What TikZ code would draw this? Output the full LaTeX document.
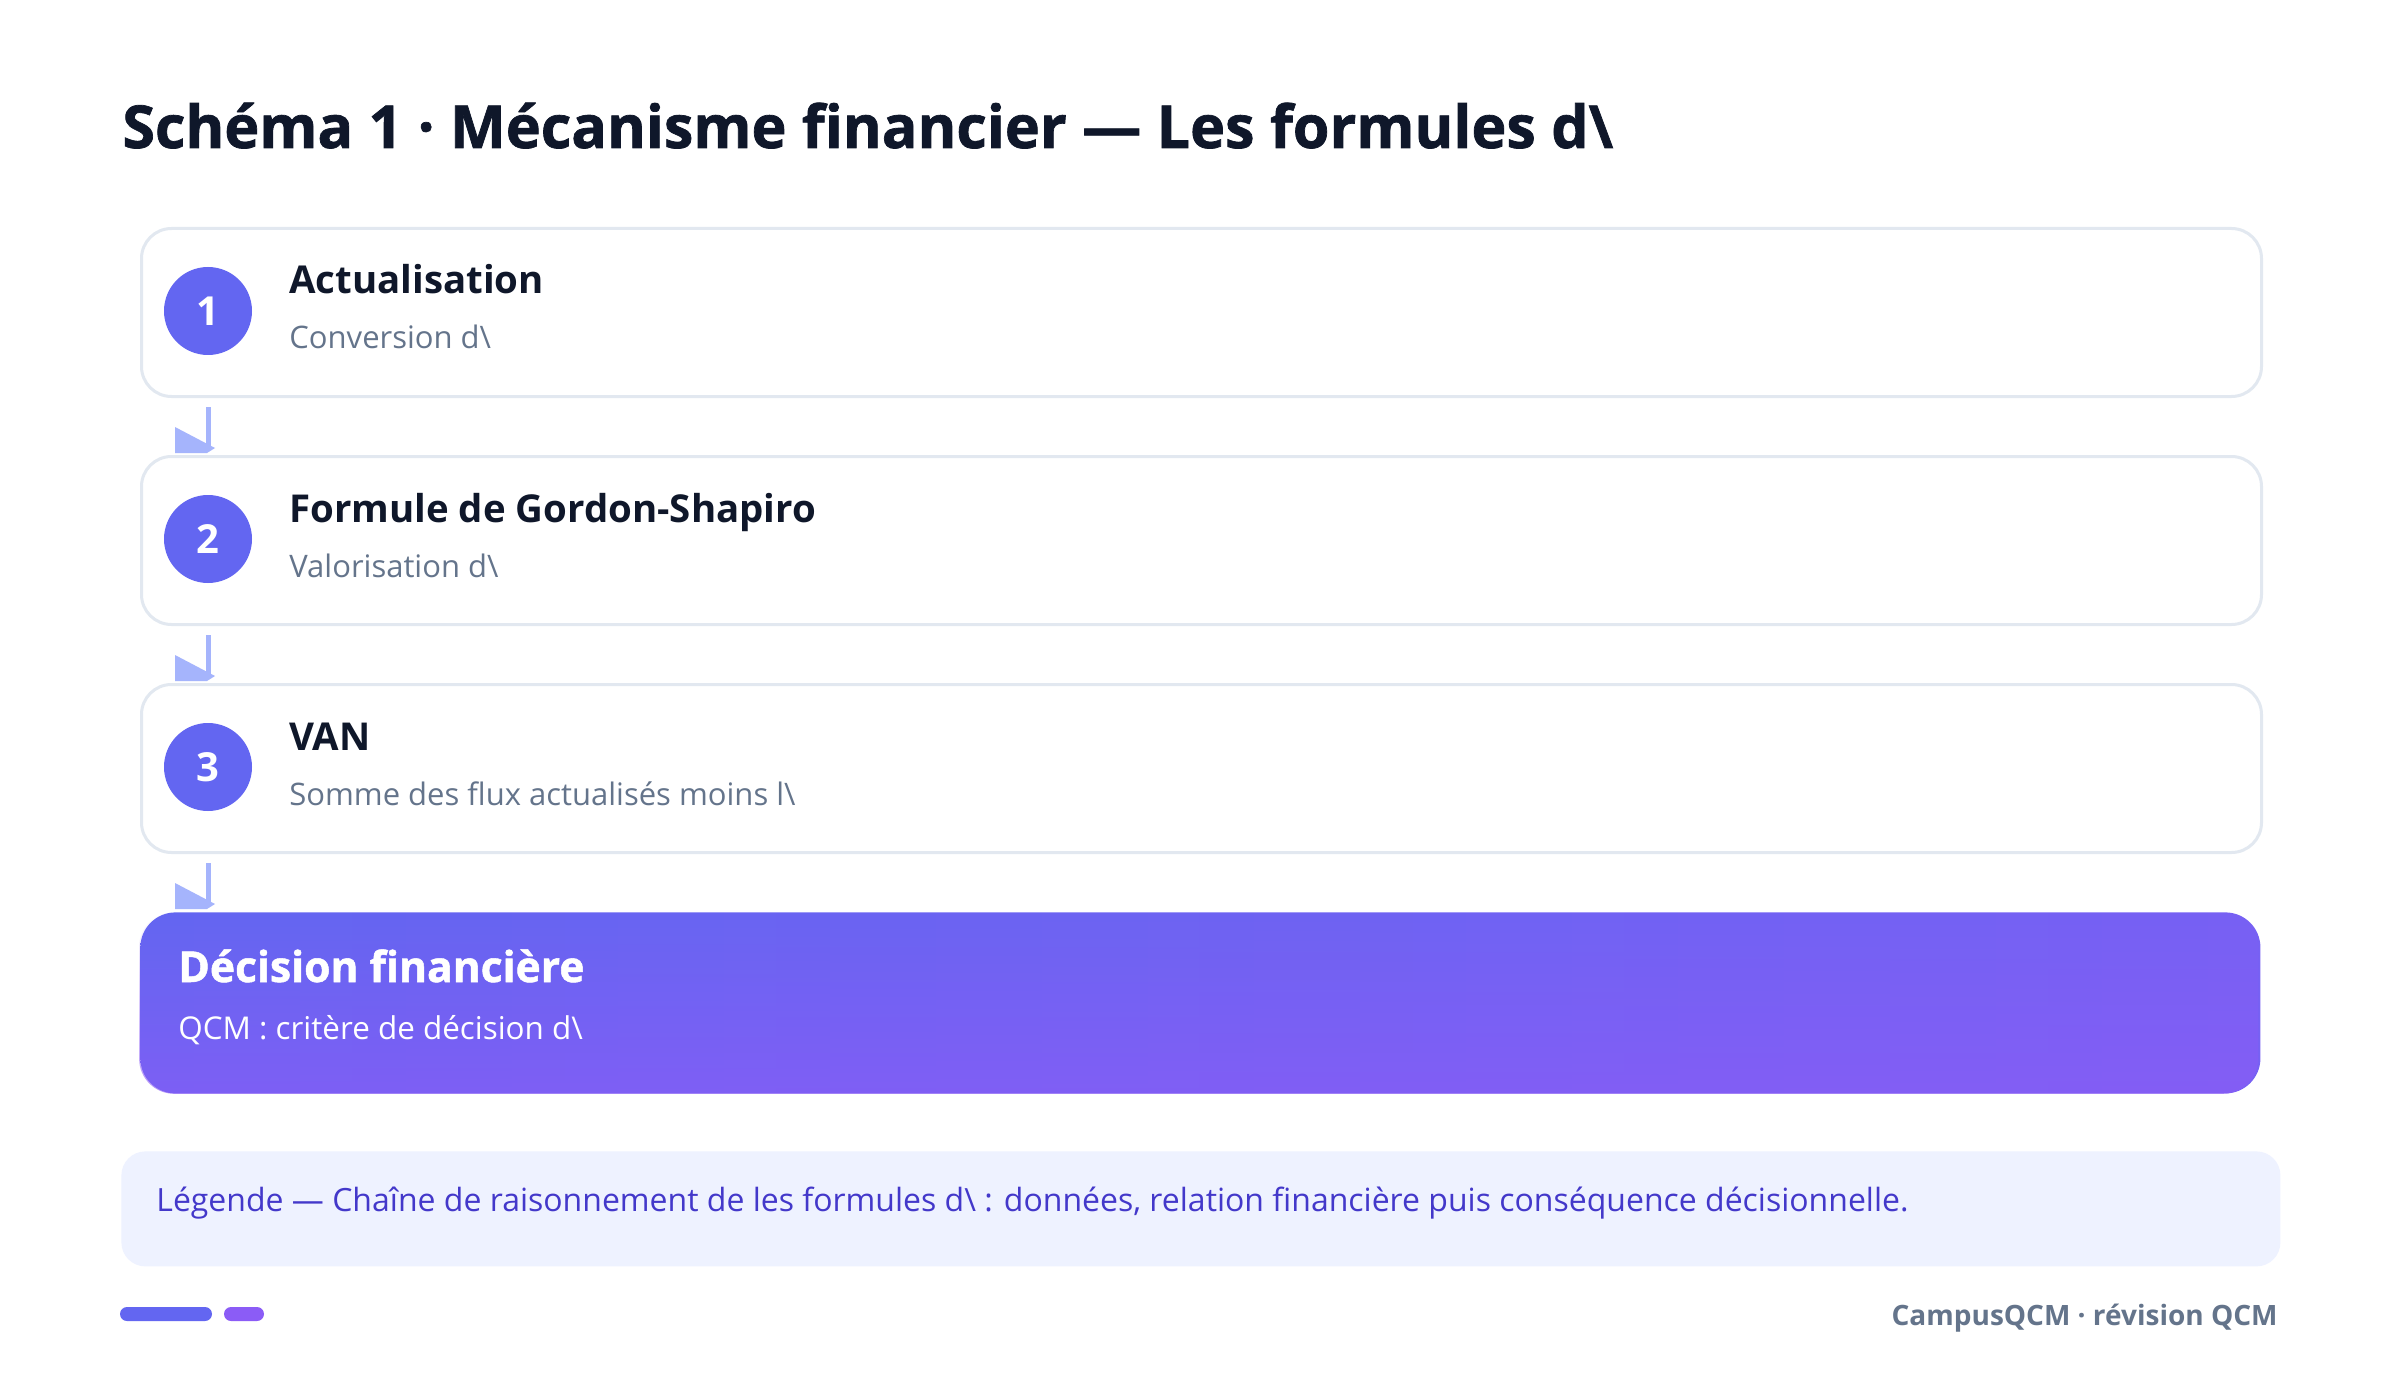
\documentclass[tikz,border=0pt]{standalone}
\usepackage{fontspec}
\setmainfont{Open Sans}
\newfontfamily\heavyfont{Open Sans}[BoldFeatures={FakeBold=1.2}]
\usetikzlibrary{calc,fadings}
\definecolor{ink}{HTML}{0F172A}
\definecolor{slate}{HTML}{64748B}
\definecolor{cardline}{HTML}{E2E8F0}
\definecolor{indigo}{HTML}{6366F1}
\definecolor{violet}{HTML}{8B5CF6}
\definecolor{arrowc}{HTML}{A5B4FC}
\definecolor{legbg}{HTML}{EEF2FF}
\definecolor{legtext}{HTML}{4338CA}
\colorlet{midviolet}{indigo!50!violet}
\tikzfading[name=fadedown, top color=transparent!100, bottom color=transparent!35]
\begin{document}
\begin{tikzpicture}[x=0.5pt,y=-0.5pt,
  card/.style={draw=cardline, line width=1.5pt, fill=white, rounded corners=15pt,
    minimum width=1060pt, minimum height=84pt, anchor=north west, inner sep=0pt},
  badge/.style={circle, fill=indigo, minimum size=44pt, inner sep=0pt, text=white,
    font=\fontsize{20}{20}\selectfont\bfseries},
  ctitle/.style={anchor=base west, inner sep=0pt, text=ink, font=\fontsize{19.2}{23}\selectfont\bfseries},
  csub/.style={anchor=base west, inner sep=0pt, text=slate, font=\fontsize{15.5}{19}\selectfont},
  conn/.style={draw=arrowc, line width=2.5pt},
  headc/.style={fill=arrowc},
  txt/.style={anchor=base west, inner sep=0pt},
]
\useasboundingbox[fill=white] (0,0) rectangle (2400,1375);

\node[txt, text=ink, font=\fontsize{29.6}{35}\heavyfont\bfseries] (title) at (122,148)
  {Schéma 1 · Mécanisme financier — Les formules d\textbackslash};

\foreach \i/\t/\s in {1/Actualisation/Conversion d\textbackslash,
                      2/Formule de Gordon-Shapiro/Valorisation d\textbackslash,
                      3/VAN/Somme des flux actualisés moins l\textbackslash}{
  \pgfmathsetmacro\yy{227+228*(\i-1)}
  \node[card] (b\i) at (140,\yy) {};
  \node[badge] (c\i) at (208,\yy+84) {\i};
  \node[ctitle] (t\i) at (289,\yy+67) {\t};
  \node[csub] (s\i) at (289,\yy+122) {\s};
}

\node[anchor=north west, minimum width=1060pt, minimum height=90.5pt, rounded corners=17.5pt,
  inner sep=0pt, left color=indigo, right color=midviolet] (d) at (140,912) {};
\fill[violet, rounded corners=17.5pt, path fading=fadedown] (d.north west) rectangle (d.south east);
\node[txt, text=white, font=\fontsize{21.3}{25}\heavyfont\bfseries] (dt) at (178,982) {Décision financière};
\node[txt, text=white, font=\fontsize{15.7}{19}\selectfont] (ds) at (178,1039) {QCM : critère de décision d\textbackslash};

% connectors
\coordinate (e1) at ($(c1|-b2.north)+(0,-7)$);
\coordinate (e2) at ($(c2|-b3.north)+(0,-7)$);
\coordinate (e3) at ($(c3|-d.north)+(0,-8)$);
\draw[conn] ($(c1|-b1.south)+(0,9)$) -- (e1);
\draw[conn] ($(c2|-b2.south)+(0,9)$) -- (e2);
\draw[conn] ($(c3|-b3.south)+(0,9)$) -- (e3);
\foreach \e in {e1,e2,e3}{
  \fill[headc] ($(\e)+(-33,-21)$) -- ($(\e)+(7,0)$) -- ($(\e)+(-1,5)$) -- ($(\e)+(-33,5)$) -- cycle;
}

% legend
\node[fill=legbg, rounded corners=12pt, anchor=north west, minimum width=1079.5pt,
  minimum height=57.5pt, inner sep=0pt] (lg) at (121,1151) {};
\node[txt, text=legtext, font=\fontsize{16}{19}\selectfont] (lgt) at (156,1211)
  {Légende — Chaîne de raisonnement de les formules d\textbackslash{} : données, relation financière puis conséquence décisionnelle.};

% footer
\fill[indigo, rounded corners=3.5pt] (120,1307) rectangle (212,1321);
\fill[violet, rounded corners=3.5pt] (224,1307) rectangle (264,1321);
\node[anchor=base east, inner sep=0pt, text=slate, font=\fontsize{14}{17}\selectfont\bfseries] (foot) at (2278,1325)
  {CampusQCM · révision QCM};
\end{tikzpicture}
\end{document}
